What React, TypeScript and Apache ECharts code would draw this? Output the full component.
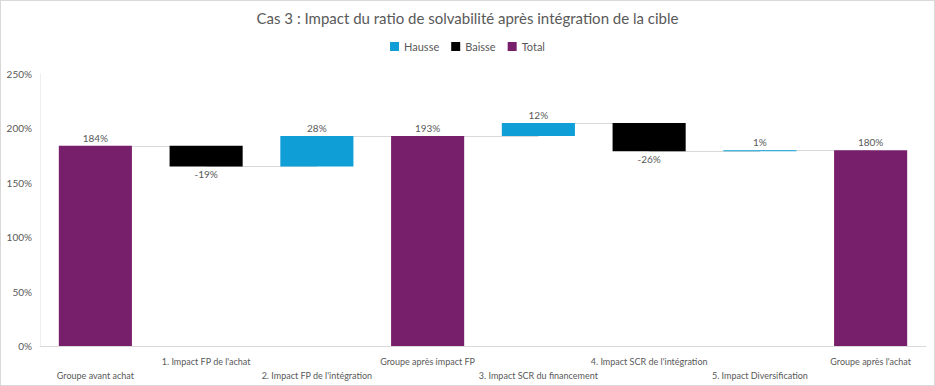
import React, { useEffect, useRef } from "react";
import * as echarts from "echarts";

const categories = [
  "Groupe avant achat",
  "1. Impact FP de l'achat",
  "2. Impact FP de l'intégration",
  "Groupe après impact FP",
  "3. Impact SCR du financement",
  "4. Impact SCR de l'intégration",
  "5. Impact Diversification",
  "Groupe après l'achat",
];
const values = [184, -19, 28, 193, 12, -26, 1, 180];
const isTotal = [true, false, false, true, false, false, false, true];
const yTicks = [0, 50, 100, 150, 200, 250];

const TEXT = "#595959";
const FONT = "Lato, 'Open Sans', sans-serif";

export default function App() {
  const ref = useRef<HTMLDivElement>(null);
  useEffect(() => {
    if (!ref.current) return;
    const chart = echarts.init(ref.current, null, { renderer: "svg" });

    const base: number[] = [];
    const up: (number | string)[] = [];
    const down: (number | string)[] = [];
    const tot: (number | string)[] = [];
    const levels: number[] = [];
    let level = 0;
    values.forEach((v, i) => {
      if (isTotal[i]) {
        base.push(0);
        tot.push(v);
        up.push("-");
        down.push("-");
        level = v;
      } else if (v >= 0) {
        base.push(level);
        up.push(v);
        down.push("-");
        tot.push("-");
        level = level + v;
      } else {
        base.push(level + v);
        down.push(-v);
        up.push("-");
        tot.push("-");
        level = level + v;
      }
      levels.push(level);
    });

    const connectors = levels.slice(0, -1).map((lv, i) => [
      { coord: [i, lv] },
      { coord: [i + 1, lv] },
    ]);

    const labelFmt = (p: any) => `${values[p.dataIndex]}%`;
    const labelStyle = { color: TEXT, fontSize: 10, fontFamily: FONT };

    chart.setOption({
      animation: false,
      title: {
        text: "Cas 3 : Impact du ratio de solvabilité après intégration de la cible",
        left: "center",
        top: 4,
        textStyle: { color: TEXT, fontSize: 15, fontWeight: "normal", fontFamily: FONT },
      },
      legend: {
        top: 35,
        left: "center",
        data: ["Hausse", "Baisse", "Total"],
        icon: "rect",
        itemWidth: 9,
        itemHeight: 9,
        itemGap: 12,
        textStyle: { color: TEXT, fontSize: 11, fontFamily: FONT },
      },
      grid: { left: 39, right: 8, top: 73, bottom: 39 },
      xAxis: {
        type: "category",
        data: categories,
        axisLine: { lineStyle: { color: "#d9d9d9" } },
        axisTick: { show: false },
        axisLabel: {
          interval: 0,
          color: TEXT,
          fontSize: 9,
          fontFamily: FONT,
          margin: 8,
          lineHeight: 14,
          formatter: (v: string, i: number) => (i % 2 === 0 ? "\n" + v : v),
        },
      },
      yAxis: {
        type: "value",
        min: yTicks[0],
        max: yTicks[yTicks.length - 1],
        interval: 50,
        axisLine: { show: true, lineStyle: { color: "#eeeeee" } },
        splitLine: { show: false },
        axisLabel: {
          color: TEXT,
          fontSize: 10,
          fontFamily: FONT,
          margin: 8,
          formatter: (v: number) => `${v}%`,
        },
      },
      series: [
        {
          name: "base",
          type: "bar",
          stack: "w",
          barWidth: "66%",
          data: base,
          itemStyle: { color: "transparent" },
          emphasis: { disabled: true },
          z: 1,
          markLine: {
            silent: true,
            z: 0,
            symbol: "none",
            label: { show: false },
            lineStyle: { color: "#d9d9d9", type: "solid", width: 1 },
            data: connectors,
          },
        },
        {
          name: "Hausse",
          type: "bar",
          stack: "w",
          data: up,
          itemStyle: { color: "#0f9fd6" },
          label: { show: true, position: "top", distance: 3, formatter: labelFmt, ...labelStyle },
          z: 3,
        },
        {
          name: "Baisse",
          type: "bar",
          stack: "w",
          data: down,
          itemStyle: { color: "#000000" },
          label: { show: true, position: "bottom", distance: 3, formatter: labelFmt, ...labelStyle },
          z: 3,
        },
        {
          name: "Total",
          type: "bar",
          stack: "w",
          data: tot,
          itemStyle: { color: "#781f6c" },
          label: { show: true, position: "top", distance: 3, formatter: labelFmt, ...labelStyle },
          z: 3,
        },
      ],
    });
    return () => chart.dispose();
  }, []);

  return (
    <div
      style={{
        position: "fixed",
        left: 0,
        top: 0,
        width: 935,
        height: 386,
        boxSizing: "border-box",
        border: "1px solid #d9d9d9",
        background: "#fff",
      }}
    >
      <div ref={ref} style={{ width: 933, height: 384 }} />
    </div>
  );
}
